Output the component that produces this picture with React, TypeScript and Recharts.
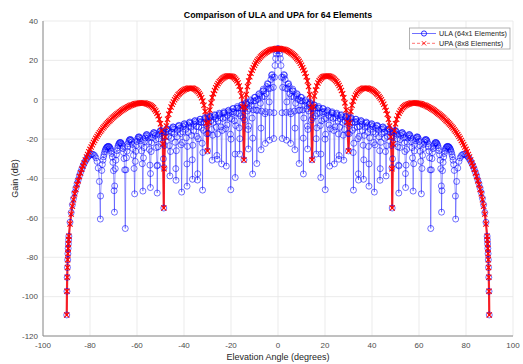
import { LineChart, Line, XAxis, YAxis, CartesianGrid } from "recharts";

// ULA (64x1) cut
const ulaAngles = [
  -89.9, -89.8, -89.7, -89.6, -89.5, -89.4, -89.3, -89.2,
  -89.1, -89, -88.5, -88, -87.5, -87, -86.5, -86, -85.5, -85,
  -84.5, -84, -83.5, -83, -82.5, -82, -81.5, -81, -80.5, -80,
  -79.5, -79, -78.5, -78, -77.5, -77, -76.5, -76, -75.6, -75.5,
  -75, -74.5, -74, -73.5, -73, -72.5, -72, -71.5, -71, -70.5,
  -70, -69.6, -69.5, -69, -68.5, -68, -67.5, -67, -66.5, -66,
  -65.5, -65, -64.5, -64, -63.5, -63, -62.5, -62, -61.5, -61,
  -60.5, -60, -59.5, -59, -58.5, -58, -57.5, -57, -56.5, -56,
  -55.5, -55, -54.5, -54.3, -54, -53.5, -53, -52.5, -52, -51.5,
  -51.4, -51, -50.5, -50, -49.5, -49, -48.6, -48.5, -48, -47.5,
  -47, -46.5, -46, -45.5, -45, -44.5, -44, -43.5, -43.4, -43,
  -42.5, -42, -41.5, -41, -40.5, -40, -39.5, -39, -38.7, -38.5,
  -38, -37.5, -37, -36.5, -36.4, -36, -35.5, -35, -34.5, -34.2,
  -34, -33.5, -33, -32.5, -32.1, -32, -31.5, -31, -30.5, -30,
  -29.5, -29, -28.5, -28, -27.5, -27, -26.5, -26, -25.9, -25.5,
  -25, -24.5, -24, -23.5, -23, -22.5, -22, -21.5, -21, -20.5,
  -20.1, -20, -19.5, -19, -18.5, -18.2, -18, -17.5, -17, -16.5,
  -16.3, -16, -15.5, -15, -14.5, -14, -13.5, -13, -12.6, -12.5,
  -12, -11.5, -11, -10.8, -10.5, -10, -9.5, -9, -8.5, -8,
  -7.5, -7.2, -7, -6.5, -6, -5.5, -5.4, -5, -4.5, -4,
  -3.6, -3.5, -3, -2.5, -2, -1.8, -1.5, -1, -0.5,
  0, 0.5, 1, 1.5, 1.8, 2, 2.5, 3, 3.5, 3.6,
  4, 4.5, 5, 5.4, 5.5, 6, 6.5, 7, 7.2, 7.5,
  8, 8.5, 9, 9.5, 10, 10.5, 10.8, 11, 11.5, 12,
  12.5, 12.6, 13, 13.5, 14, 14.5, 15, 15.5, 16, 16.3,
  16.5, 17, 17.5, 18, 18.2, 18.5, 19, 19.5, 20, 20.1,
  20.5, 21, 21.5, 22, 22.5, 23, 23.5, 24, 24.5, 25,
  25.5, 25.9, 26, 26.5, 27, 27.5, 28, 28.5, 29, 29.5,
  30, 30.5, 31, 31.5, 32, 32.1, 32.5, 33, 33.5, 34,
  34.2, 34.5, 35, 35.5, 36, 36.4, 36.5, 37, 37.5, 38,
  38.5, 38.7, 39, 39.5, 40, 40.5, 41, 41.5, 42, 42.5,
  43, 43.4, 43.5, 44, 44.5, 45, 45.5, 46, 46.5, 47,
  47.5, 48, 48.5, 48.6, 49, 49.5, 50, 50.5, 51, 51.4,
  51.5, 52, 52.5, 53, 53.5, 54, 54.3, 54.5, 55, 55.5,
  56, 56.5, 57, 57.5, 58, 58.5, 59, 59.5, 60, 60.5,
  61, 61.5, 62, 62.5, 63, 63.5, 64, 64.5, 65, 65.5,
  66, 66.5, 67, 67.5, 68, 68.5, 69, 69.5, 69.6, 70,
  70.5, 71, 71.5, 72, 72.5, 73, 73.5, 74, 74.5, 75,
  75.5, 75.6, 76, 76.5, 77, 77.5, 78, 78.5, 79, 79.5,
  80, 80.5, 81, 81.5, 82, 82.5, 83, 83.5, 84, 84.5,
  85, 85.5, 86, 86.5, 87, 87.5, 88, 88.5, 89, 89.1,
  89.2, 89.3, 89.4, 89.5, 89.6, 89.7, 89.8, 89.9,
];

const ulaGain = [
  -109.3, -97.3, -90.2, -85.2, -81.3, -78.2, -75.5, -73.2,
  -71.1, -69.3, -62.2, -57.3, -53.3, -50.1, -47.1, -44.8, -42.5, -40.6,
  -38.5, -36.8, -35.2, -33.7, -32.4, -31.2, -30.2, -29.3, -28.6, -28,
  -27.7, -27.6, -27.9, -28.4, -29.5, -31.3, -34.7, -41.5, -60.6, -48.9,
  -35.9, -30.7, -27.7, -25.6, -24.4, -23.8, -23.7, -24.4, -26, -29.1,
  -36, -57.1, -43.8, -30.7, -25.9, -23.3, -22, -21.7, -22.6, -24.8,
  -29.9, -65.4, -29.5, -23.9, -21.2, -20.2, -20.6, -22.7, -28.2, -47.8,
  -26.2, -21.2, -19.1, -19, -20.8, -26, -46.4, -24.3, -19.4, -17.7,
  -18.3, -21.5, -33.2, -44.6, -26.3, -19.2, -16.8, -17.1, -20.3, -33.6,
  -47.4, -23.9, -17.5, -15.6, -16.7, -22.1, -55, -34.5, -18.8, -15.1,
  -15, -18.6, -38.7, -19.6, -14.6, -13.9, -17.1, -35, -40.9, -18.8,
  -13.6, -13.2, -17.2, -46.9, -16.3, -12.4, -12.9, -19.3, -43.9, -23.7,
  -13.3, -11.3, -13.9, -30.5, -40.4, -15.7, -10.9, -11.3, -18.6, -37.6,
  -19.8, -11, -9.9, -14.4, -45.9, -26.8, -11.4, -9, -12.1, -26,
  -11.6, -8.3, -10.6, -30.7, -11.5, -7.6, -9.7, -28.3, -30.2, -10.8,
  -6.8, -9.1, -32.6, -9.5, -6.1, -9, -33.7, -7.9, -5.3, -9.4,
  -45.7, -20, -6, -4.5, -10.7, -39.5, -13.1, -4.2, -4.2, -14.3,
  -27.6, -8.2, -2.6, -4.5, -30.5, -4.4, -1.4, -5.7, -25, -13.4,
  -1.4, -0.6, -9.3, -37.7, -5.1, 1.2, -0.5, -32.4, 0.2, 3.1,
  -1.8, -25.4, -5.8, 4.4, 4.6, -7.1, -22.2, 3.1, 8.2, 5.7,
  -20.5, -6.4, 10.3, 12.8, 6.3, -19.7, 11.4, 21, 24.9,
  26, 24.9, 21, 11.4, -19.7, 6.3, 12.8, 10.3, -6.4, -20.5,
  5.7, 8.2, 3.1, -22.2, -7.1, 4.6, 4.4, -5.8, -25.4, -1.8,
  3.1, 0.2, -32.4, -0.5, 1.2, -5.1, -37.7, -9.3, -0.6, -1.4,
  -13.4, -25, -5.7, -1.4, -4.4, -30.5, -4.5, -2.6, -8.2, -27.6,
  -14.3, -4.2, -4.2, -13.1, -39.5, -10.7, -4.5, -6, -20, -45.7,
  -9.4, -5.3, -7.9, -33.7, -9, -6.1, -9.5, -32.6, -9.1, -6.8,
  -10.8, -30.2, -28.3, -9.7, -7.6, -11.5, -30.7, -10.6, -8.3, -11.6,
  -26, -12.1, -9, -11.4, -26.8, -45.9, -14.4, -9.9, -11, -19.8,
  -37.6, -18.6, -11.3, -10.9, -15.7, -40.4, -30.5, -13.9, -11.3, -13.3,
  -23.7, -43.9, -19.3, -12.9, -12.4, -16.3, -46.9, -17.2, -13.2, -13.6,
  -18.8, -40.9, -35, -17.1, -13.9, -14.6, -19.6, -38.7, -18.6, -15,
  -15.1, -18.8, -34.5, -55, -22.1, -16.7, -15.6, -17.5, -23.9, -47.4,
  -33.6, -20.3, -17.1, -16.8, -19.2, -26.3, -44.6, -33.2, -21.5, -18.3,
  -17.7, -19.4, -24.3, -46.4, -26, -20.8, -19, -19.1, -21.2, -26.2,
  -47.8, -28.2, -22.7, -20.6, -20.2, -21.2, -23.9, -29.5, -65.4, -29.9,
  -24.8, -22.6, -21.7, -22, -23.3, -25.9, -30.7, -43.8, -57.1, -36,
  -29.1, -26, -24.4, -23.7, -23.8, -24.4, -25.6, -27.7, -30.7, -35.9,
  -48.9, -60.6, -41.5, -34.7, -31.3, -29.5, -28.4, -27.9, -27.6, -27.7,
  -28, -28.6, -29.3, -30.2, -31.2, -32.4, -33.7, -35.2, -36.8, -38.5,
  -40.6, -42.5, -44.8, -47.1, -50.1, -53.3, -57.3, -62.2, -69.3, -71.1,
  -73.2, -75.5, -78.2, -81.3, -85.2, -90.2, -97.3, -109.3,
];

// extra ULA samples between the half degrees, where the lobes are narrow
const ulaFineAngles = [
  -74.75, -74.25, -73.75, -73.25, -72.75, -72.25, -71.75, -71.25, -70.75, -70.25,
  -69.75, -69.25, -68.75, -68.25, -67.75, -67.25, -66.75, -66.25, -65.75, -65.25,
  -64.75, -64.25, -63.75, -63.25, -62.75, -62.25, -61.75, -61.25, -60.75, -60.25,
  -59.75, -59.25, -58.75, -58.25, -57.75, -57.25, -56.75, -56.25, -55.75, -55.25,
  -54.75, -54.25, -53.75, -53.25, -52.75, -52.25, -51.75, -51.25, -50.75, -50.25,
  -49.75, -49.25, -48.75, -48.25, -47.75, -47.25, -46.75, -46.25, -45.75, -45.25,
  -44.75, -44.25, -43.75, -43.25, -42.75, -42.25, -41.75, -41.25, -40.75, -40.25,
  -39.75, -39.25, -38.75, -38.25, -37.75, -37.25, -36.75, -36.25, -35.75, -35.25,
  -34.75, -34.25, -33.75, -33.25, -32.75, -32.25, -31.75, -31.25, -30.75, -30.25,
  -29.75, -29.25, -28.75, -28.25, -27.75, -27.25, -26.75, -26.25, -25.75, -25.25,
  -24.75, -24.25, -23.75, -23.25, -22.75, -22.25, -21.75, -21.25, -20.75, -20.25,
  -19.75, -19.25, -18.75, -18.25, -17.75, -17.25, -16.75, -16.25, -15.75, -15.25,
  -14.75, -14.25, -13.75, -13.25, -12.75, -12.25, -11.75, -11.25, -10.75, -10.25,
  -9.75, -9.25, -8.75, -8.25, -7.75, -7.25, -6.75, -6.25, -5.75, -5.25,
  -4.75, -4.25, -3.75, -3.25, -2.75, -2.25, -1.75, -1.25, -0.75, -0.25,
  0.25, 0.75, 1.25, 1.75, 2.25, 2.75, 3.25, 3.75, 4.25, 4.75,
  5.25, 5.75, 6.25, 6.75, 7.25, 7.75, 8.25, 8.75, 9.25, 9.75,
  10.25, 10.75, 11.25, 11.75, 12.25, 12.75, 13.25, 13.75, 14.25, 14.75,
  15.25, 15.75, 16.25, 16.75, 17.25, 17.75, 18.25, 18.75, 19.25, 19.75,
  20.25, 20.75, 21.25, 21.75, 22.25, 22.75, 23.25, 23.75, 24.25, 24.75,
  25.25, 25.75, 26.25, 26.75, 27.25, 27.75, 28.25, 28.75, 29.25, 29.75,
  30.25, 30.75, 31.25, 31.75, 32.25, 32.75, 33.25, 33.75, 34.25, 34.75,
  35.25, 35.75, 36.25, 36.75, 37.25, 37.75, 38.25, 38.75, 39.25, 39.75,
  40.25, 40.75, 41.25, 41.75, 42.25, 42.75, 43.25, 43.75, 44.25, 44.75,
  45.25, 45.75, 46.25, 46.75, 47.25, 47.75, 48.25, 48.75, 49.25, 49.75,
  50.25, 50.75, 51.25, 51.75, 52.25, 52.75, 53.25, 53.75, 54.25, 54.75,
  55.25, 55.75, 56.25, 56.75, 57.25, 57.75, 58.25, 58.75, 59.25, 59.75,
  60.25, 60.75, 61.25, 61.75, 62.25, 62.75, 63.25, 63.75, 64.25, 64.75,
  65.25, 65.75, 66.25, 66.75, 67.25, 67.75, 68.25, 68.75, 69.25, 69.75,
  70.25, 70.75, 71.25, 71.75, 72.25, 72.75, 73.25, 73.75, 74.25, 74.75,
];

const ulaFineGain = [
  -32.9, -29, -26.5, -24.9, -24, -23.7, -24, -25.1, -27.3, -31.8,
  -46.2, -35, -27.9, -24.4, -22.5, -21.7, -22, -23.4, -26.8, -35.6,
  -35.6, -26.1, -22.3, -20.5, -20.2, -21.4, -24.8, -34.9, -31.3, -23.2,
  -19.9, -18.8, -19.6, -22.7, -32.5, -29.5, -21.3, -18.3, -17.7, -19.4,
  -25.2, -37.5, -21.8, -17.6, -16.6, -18.2, -24.3, -33.2, -19.8, -16.1,
  -15.8, -18.6, -30, -23.2, -16.4, -14.7, -16.2, -23.3, -26.3, -16.4,
  -13.8, -14.9, -21.6, -25.9, -15.4, -13, -14.5, -22.9, -21.7, -13.6,
  -12.1, -15, -32.6, -16.6, -11.7, -12, -18.1, -23.1, -12.4, -10.5,
  -13.6, -40.8, -13.8, -9.9, -11.3, -22.1, -15.5, -9.5, -9.7, -17.3,
  -17.1, -9.1, -8.7, -15.1, -18, -8.7, -7.9, -14, -17.4, -7.9,
  -7.2, -13.8, -15.6, -6.9, -6.6, -14.7, -12.8, -5.7, -6.3, -17.5,
  -9.8, -4.5, -6.3, -27.6, -6.8, -3.4, -7, -19.8, -4.2, -2.7,
  -9.1, -10.3, -2, -2.4, -15.1, -4.7, -0.1, -3, -19.5, -0.6,
  1.2, -5.3, -5.4, 2.6, 2, -14.4, 1.4, 5.4, 1.7, -6.1,
  6.7, 7.9, -1.1, 5.8, 12.4, 11.4, -6.6, 17.4, 23.3, 25.7,
  25.7, 23.3, 17.4, -6.6, 11.4, 12.4, 5.8, -1.1, 7.9, 6.7,
  -6.1, 1.7, 5.4, 1.4, -14.4, 2, 2.6, -5.4, -5.3, 1.2,
  -0.6, -19.5, -3, -0.1, -4.7, -15.1, -2.4, -2, -10.3, -9.1,
  -2.7, -4.2, -19.8, -7, -3.4, -6.8, -27.6, -6.3, -4.5, -9.8,
  -17.5, -6.3, -5.7, -12.8, -14.7, -6.6, -6.9, -15.6, -13.8, -7.2,
  -7.9, -17.4, -14, -7.9, -8.7, -18, -15.1, -8.7, -9.1, -17.1,
  -17.3, -9.7, -9.5, -15.5, -22.1, -11.3, -9.9, -13.8, -40.8, -13.6,
  -10.5, -12.4, -23.1, -18.1, -12, -11.7, -16.6, -32.6, -15, -12.1,
  -13.6, -21.7, -22.9, -14.5, -13, -15.4, -25.9, -21.6, -14.9, -13.8,
  -16.4, -26.3, -23.3, -16.2, -14.7, -16.4, -23.2, -30, -18.6, -15.8,
  -16.1, -19.8, -33.2, -24.3, -18.2, -16.6, -17.6, -21.8, -37.5, -25.2,
  -19.4, -17.7, -18.3, -21.3, -29.5, -32.5, -22.7, -19.6, -18.8, -19.9,
  -23.2, -31.3, -34.9, -24.8, -21.4, -20.2, -20.5, -22.3, -26.1, -35.6,
  -35.6, -26.8, -23.4, -22, -21.7, -22.5, -24.4, -27.9, -35, -46.2,
  -31.8, -27.3, -25.1, -24, -23.7, -24, -24.9, -26.5, -29, -32.9,
];

// UPA (8x8) cut
const upaAngles = [
  -89.9, -89.8, -89.7, -89.6, -89.5, -89.4, -89.3, -89.2, -89.1,
  -89, -88.5, -88, -87.5, -87, -86.5, -86, -85.5, -85, -84.5,
  -84, -83.5, -83, -82.5, -82, -81.5, -81, -80.5, -80, -79.5,
  -79, -78.5, -78, -77.5, -77, -76.5, -76, -75.5, -75, -74.5,
  -74, -73.5, -73, -72.5, -72, -71.5, -71, -70.5, -70, -69.5,
  -69, -68.5, -68, -67.5, -67, -66.5, -66, -65.5, -65, -64.5,
  -64, -63.5, -63, -62.5, -62, -61.5, -61, -60.5, -60, -59.5,
  -59, -58.5, -58, -57.5, -57, -56.5, -56, -55.5, -55, -54.5,
  -54, -53.5, -53, -52.5, -52, -51.5, -51, -50.5, -50, -49.5,
  -49, -48.6, -48.5, -48, -47.5, -47, -46.5, -46, -45.5, -45,
  -44.5, -44, -43.5, -43, -42.5, -42, -41.5, -41, -40.5, -40,
  -39.5, -39, -38.5, -38, -37.5, -37, -36.5, -36, -35.5, -35,
  -34.5, -34, -33.5, -33, -32.5, -32, -31.5, -31, -30.5, -30,
  -29.5, -29, -28.5, -28, -27.5, -27, -26.5, -26, -25.5, -25,
  -24.5, -24, -23.5, -23, -22.5, -22, -21.5, -21, -20.5, -20,
  -19.5, -19, -18.5, -18, -17.5, -17, -16.5, -16, -15.5, -15,
  -14.5, -14, -13.5, -13, -12.5, -12, -11.5, -11, -10.5, -10,
  -9.5, -9, -8.5, -8, -7.5, -7, -6.5, -6, -5.5, -5,
  -4.5, -4, -3.5, -3, -2.5, -2, -1.5, -1, -0.5,
  0, 0.5, 1, 1.5, 2, 2.5, 3, 3.5, 4, 4.5,
  5, 5.5, 6, 6.5, 7, 7.5, 8, 8.5, 9, 9.5,
  10, 10.5, 11, 11.5, 12, 12.5, 13, 13.5, 14, 14.5,
  15, 15.5, 16, 16.5, 17, 17.5, 18, 18.5, 19, 19.5,
  20, 20.5, 21, 21.5, 22, 22.5, 23, 23.5, 24, 24.5,
  25, 25.5, 26, 26.5, 27, 27.5, 28, 28.5, 29, 29.5,
  30, 30.5, 31, 31.5, 32, 32.5, 33, 33.5, 34, 34.5,
  35, 35.5, 36, 36.5, 37, 37.5, 38, 38.5, 39, 39.5,
  40, 40.5, 41, 41.5, 42, 42.5, 43, 43.5, 44, 44.5,
  45, 45.5, 46, 46.5, 47, 47.5, 48, 48.5, 48.6, 49,
  49.5, 50, 50.5, 51, 51.5, 52, 52.5, 53, 53.5, 54,
  54.5, 55, 55.5, 56, 56.5, 57, 57.5, 58, 58.5, 59,
  59.5, 60, 60.5, 61, 61.5, 62, 62.5, 63, 63.5, 64,
  64.5, 65, 65.5, 66, 66.5, 67, 67.5, 68, 68.5, 69,
  69.5, 70, 70.5, 71, 71.5, 72, 72.5, 73, 73.5, 74,
  74.5, 75, 75.5, 76, 76.5, 77, 77.5, 78, 78.5, 79,
  79.5, 80, 80.5, 81, 81.5, 82, 82.5, 83, 83.5, 84,
  84.5, 85, 85.5, 86, 86.5, 87, 87.5, 88, 88.5, 89,
  89.1, 89.2, 89.3, 89.4, 89.5, 89.6, 89.7, 89.8, 89.9,
];

const upaGain = [
  -109.3, -97.3, -90.2, -85.2, -81.3, -78.2, -75.5, -73.2, -71.1,
  -69.3, -63.1, -58.1, -54.1, -50.8, -47.8, -45.5, -43.1, -41.2, -39,
  -37.2, -35.3, -33.7, -32.1, -30.6, -29.1, -27.8, -26.4, -25.2, -24,
  -22.9, -21.7, -20.7, -19.6, -18.6, -17.7, -16.8, -16, -15.2, -14.4,
  -13.7, -13, -12.3, -11.7, -11.1, -10.5, -9.9, -9.3, -8.8, -8.2,
  -7.7, -7.2, -6.8, -6.3, -5.9, -5.5, -5.1, -4.7, -4.3, -4,
  -3.7, -3.4, -3.1, -2.8, -2.6, -2.4, -2.2, -2, -1.9, -1.8,
  -1.7, -1.7, -1.6, -1.7, -1.7, -1.8, -2, -2.2, -2.4, -2.7,
  -3.1, -3.6, -4.1, -4.9, -5.7, -6.8, -8.1, -9.9, -12.2, -15.8,
  -22.5, -55, -35.1, -18.9, -13.3, -9.9, -7.4, -5.4, -3.7, -2.3,
  -1.1, 0, 0.9, 1.7, 2.5, 3.1, 3.7, 4.2, 4.6, 5,
  5.3, 5.5, 5.7, 5.9, 5.9, 5.9, 5.8, 5.7, 5.4, 5.1,
  4.6, 4, 3.2, 2.3, 1, -0.6, -2.8, -6, -11.8, -26,
  -11.4, -5.2, -1.6, 1, 3.1, 4.7, 6.1, 7.2, 8.2, 9.1,
  9.8, 10.4, 10.9, 11.3, 11.7, 11.9, 12.1, 12.1, 12.1, 12,
  11.8, 11.6, 11.1, 10.4, 9.6, 8.5, 7, 4.9, 1.9, -3.6,
  -30.6, -3.9, 2.7, 6.7, 9.5, 11.7, 13.5, 15, 16.3, 17.5,
  18.5, 19.5, 20.3, 21, 21.7, 22.3, 22.9, 23.4, 23.8, 24.2,
  24.5, 24.9, 25.1, 25.4, 25.6, 25.7, 25.8, 25.9, 26,
  26, 26, 25.9, 25.8, 25.7, 25.6, 25.4, 25.1, 24.9, 24.5,
  24.2, 23.8, 23.4, 22.9, 22.3, 21.7, 21, 20.3, 19.5, 18.5,
  17.5, 16.3, 15, 13.5, 11.7, 9.5, 6.7, 2.7, -3.9, -30.6,
  -3.6, 1.9, 4.9, 7, 8.5, 9.6, 10.4, 11.1, 11.6, 11.8,
  12, 12.1, 12.1, 12.1, 11.9, 11.7, 11.3, 10.9, 10.4, 9.8,
  9.1, 8.2, 7.2, 6.1, 4.7, 3.1, 1, -1.6, -5.2, -11.4,
  -26, -11.8, -6, -2.8, -0.6, 1, 2.3, 3.2, 4, 4.6,
  5.1, 5.4, 5.7, 5.8, 5.9, 5.9, 5.9, 5.7, 5.5, 5.3,
  5, 4.6, 4.2, 3.7, 3.1, 2.5, 1.7, 0.9, 0, -1.1,
  -2.3, -3.7, -5.4, -7.4, -9.9, -13.3, -18.9, -35.1, -55, -22.5,
  -15.8, -12.2, -9.9, -8.1, -6.8, -5.7, -4.9, -4.1, -3.6, -3.1,
  -2.7, -2.4, -2.2, -2, -1.8, -1.7, -1.7, -1.6, -1.7, -1.7,
  -1.8, -1.9, -2, -2.2, -2.4, -2.6, -2.8, -3.1, -3.4, -3.7,
  -4, -4.3, -4.7, -5.1, -5.5, -5.9, -6.3, -6.8, -7.2, -7.7,
  -8.2, -8.8, -9.3, -9.9, -10.5, -11.1, -11.7, -12.3, -13, -13.7,
  -14.4, -15.2, -16, -16.8, -17.7, -18.6, -19.6, -20.7, -21.7, -22.9,
  -24, -25.2, -26.4, -27.8, -29.1, -30.6, -32.1, -33.7, -35.3, -37.2,
  -39, -41.2, -43.1, -45.5, -47.8, -50.8, -54.1, -58.1, -63.1, -69.3,
  -71.1, -73.2, -75.5, -78.2, -81.3, -85.2, -90.2, -97.3, -109.3,
];

const xTicks = [-100, -80, -60, -40, -20, 0, 20, 40, 60, 80, 100];
const yTicks = [-120, -100, -80, -60, -40, -20, 0, 20, 40];

const ulaData = [
  ...ulaAngles.map((a, i) => ({ angle: a, gain: ulaGain[i] })),
  ...ulaFineAngles.map((a, i) => ({ angle: a, gain: ulaFineGain[i] })),
].sort((p, q) => p.angle - q.angle);
const upaData = upaAngles.map((a, i) => ({ angle: a, gain: upaGain[i] }));

function Cross(props: any) {
  const { cx, cy, index } = props;
  if (cx == null || cy == null) return null;
  const s = 2.6;
  return (
    <path
      key={"x" + index}
      d={`M${cx - s} ${cy - s}L${cx + s} ${cy + s}M${cx - s} ${cy + s}L${cx + s} ${cy - s}`}
      stroke="#ff0000"
      strokeWidth={1.1}
      fill="none"
    />
  );
}

export default function App() {
  return (
    <div
      style={{
        position: "absolute",
        left: 0,
        top: 0,
        width: 523,
        height: 364,
        background: "#fff",
        fontFamily: "'Liberation Sans', Arial, sans-serif",
      }}
    >
      <LineChart width={523} height={364} margin={{ top: 21, right: 10, bottom: 0, left: 8 }}>
        <CartesianGrid stroke="#e6e6e6" strokeWidth={0.8} />
        <XAxis
          dataKey="angle"
          type="number"
          domain={[-100, 100]}
          ticks={xTicks}
          height={28}
          tickSize={0}
          tickMargin={6}
          tick={{ fontSize: 8, fill: "#4d4d4d" }}
          axisLine={{ stroke: "#8c8c8c" }}
        />
        <YAxis
          type="number"
          domain={[-120, 40]}
          ticks={yTicks}
          width={35}
          tickSize={0}
          tickMargin={5}
          tick={{ fontSize: 8, fill: "#4d4d4d" }}
          axisLine={{ stroke: "#8c8c8c" }}
        />
        <Line
          data={ulaData}
          dataKey="gain"
          type="linear"
          stroke="#0000ff"
          strokeOpacity={0.5}
          strokeWidth={0.8}
          dot={{ r: 3, stroke: "#0000ff", strokeWidth: 0.8, strokeOpacity: 0.7, fill: "none" }}
          activeDot={false}
          isAnimationActive={false}
        />
        {/* dense x markers merge into a solid band in the original, so the trace is drawn wide */}
        <Line
          data={upaData}
          dataKey="gain"
          type="linear"
          stroke="#ff0000"
          strokeOpacity={0.85}
          strokeWidth={2.2}
          strokeLinejoin="round"
          strokeLinecap="round"
          dot={Cross}
          activeDot={false}
          isAnimationActive={false}
        />
      </LineChart>
      <svg
        width={523}
        height={364}
        style={{ position: "absolute", left: 0, top: 0, pointerEvents: "none" }}
      >
        <text x={278} y={14.5} textAnchor="middle" dominantBaseline="central" fontSize={8.8} fontWeight="bold" fill="#000">
          Comparison of ULA and UPA for 64 Elements
        </text>
        <text x={278} y={356.5} textAnchor="middle" dominantBaseline="central" fontSize={9} fill="#262626">
          Elevation Angle (degrees)
        </text>
        <text
          transform="translate(15,178.5) rotate(-90)"
          textAnchor="middle"
          dominantBaseline="central"
          fontSize={9}
          fill="#262626"
        >
          Gain (dB)
        </text>
        <rect x={409.5} y={28} width={100.5} height={21} fill="#fff" stroke="#a0a0a0" strokeWidth={0.8} />
        <line x1={412} y1={33.5} x2={436} y2={33.5} stroke="#0000ff" strokeWidth={0.8} strokeOpacity={0.7} />
        <circle cx={424} cy={33.5} r={2.6} fill="none" stroke="#0000ff" strokeWidth={0.8} />
        <text x={439} y={33.5} dominantBaseline="central" fontSize={7.2} fill="#262626">
          ULA (64x1 Elements)
        </text>
        <line x1={412} y1={43.3} x2={436} y2={43.3} stroke="#ff0000" strokeWidth={0.8} strokeDasharray="3 2" strokeOpacity={0.7} />
        <path d="M421.8 41.1L426.2 45.5M421.8 45.5L426.2 41.1" stroke="#ff0000" strokeWidth={0.8} fill="none" />
        <text x={439} y={43.3} dominantBaseline="central" fontSize={7.2} fill="#262626">
          UPA (8x8 Elements)
        </text>
      </svg>
    </div>
  );
}
